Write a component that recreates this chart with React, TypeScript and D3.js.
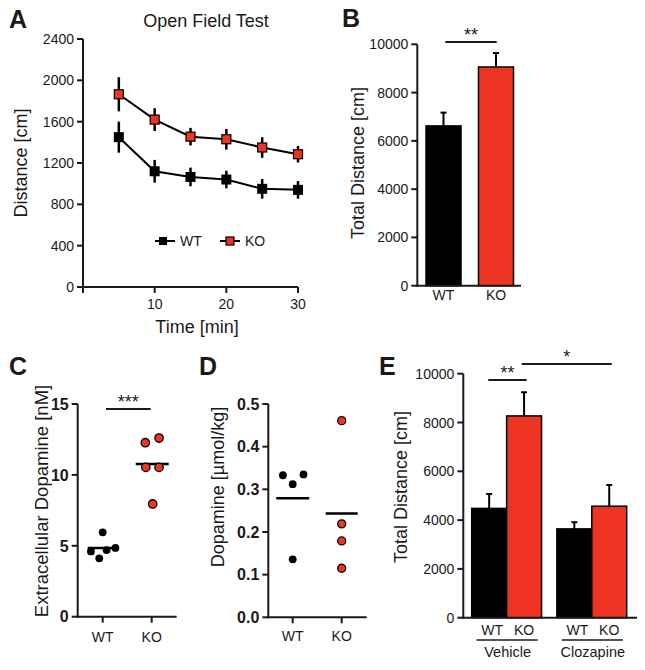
import React from 'react';
import * as d3 from 'd3';

const FONT = '"Liberation Sans", Arial, Helvetica, sans-serif';
const RED = '#ee3524';
const INK = '#1a1a1a';

// ---------- Panel A: Open Field Test ----------
const timePoints = [5, 10, 15, 20, 25, 30];
const wtDistance = [1450, 1120, 1065, 1040, 950, 940];
const wtDistanceErr = [150, 110, 90, 85, 95, 85];
const koDistance = [1865, 1620, 1455, 1430, 1350, 1285];
const koDistanceErr = [165, 110, 85, 100, 100, 80];
const aYTicks = [0, 400, 800, 1200, 1600, 2000, 2400];
const aXTicks = [0, 10, 20, 30];

// ---------- Panel B: Total distance ----------
const bGroups = ['WT', 'KO'];
const bTotal = [6620, 9060];
const bErr = [550, 580];
const bYTicks = [0, 2000, 4000, 6000, 8000, 10000];

// ---------- Panel C: Extracellular dopamine ----------
const cGroups = ['WT', 'KO'];
const cWT = [5.95, 4.6, 4.12, 4.7, 4.85];
const cWTJitter = [0.0, -0.24, -0.07, 0.08, 0.26];
const cKO = [12.27, 12.6, 10.53, 10.53, 7.95];
const cKOJitter = [-0.13, 0.15, -0.12, 0.15, 0.02];
const cYTicks = [0, 5, 10, 15];

// ---------- Panel D: Dopamine tissue ----------
const dGroups = ['WT', 'KO'];
const dWT = [0.333, 0.335, 0.312, 0.136];
const dWTJitter = [-0.2, 0.22, 0, 0];
const dKO = [0.461, 0.219, 0.179, 0.115];
const dKOJitter = [0, 0, 0, 0];
const dYTicks = [0, 0.1, 0.2, 0.3, 0.4, 0.5];

// ---------- Panel E: Vehicle / Clozapine ----------
const eTreatments = ['Vehicle', 'Clozapine'];
const eGenotypes = ['WT', 'KO'];
const eValues = [
  [4480, 8270],
  [3640, 4570],
];
const eErr = [
  [590, 970],
  [275, 870],
];
const eYTicks = [0, 2000, 4000, 6000, 8000, 10000];

const mean = (a: number[]) => a.reduce((s, v) => s + v, 0) / a.length;

function YAxis({ x, scale, ticks, fmt, bold, size = 14 }: any) {
  const [r0, r1] = scale.range();
  return (
    <g>
      <line x1={x} x2={x} y1={r0 + 1} y2={r1} stroke={INK} strokeWidth={2} />
      {ticks.map((t: number) => (
        <g key={t}>
          <line x1={x - 6} x2={x} y1={scale(t)} y2={scale(t)} stroke={INK} strokeWidth={2} />
          <text
            x={x - 9}
            y={scale(t)}
            dy="0.36em"
            textAnchor="end"
            fontSize={size}
            fontWeight={bold ? 'bold' : 'normal'}
            fill={INK}
          >
            {fmt ? fmt(t) : t}
          </text>
        </g>
      ))}
    </g>
  );
}

function Sig({ x1, x2, y, label }: any) {
  return (
    <g>
      <line x1={x1} x2={x2} y1={y} y2={y} stroke={INK} strokeWidth={2} />
      <text x={(x1 + x2) / 2} y={y - 1} textAnchor="middle" fontSize={18} fill={INK}>
        {label}
      </text>
    </g>
  );
}

export default function App() {
  // ----- A scales
  const ax = d3.scaleLinear().domain([0, 30]).range([83, 298]);
  const ay = d3.scaleLinear().domain([0, 2400]).range([287, 39]);
  const lineGen = d3
    .line<number>()
    .x((_, i) => ax(timePoints[i]))
    .y((d) => ay(d));

  // ----- B scales
  const bx = d3.scaleBand().domain(bGroups).range([426, 513.5]).paddingInner(0.333).paddingOuter(0);
  const by = d3.scaleLinear().domain([0, 10000]).range([285.7, 44.3]);

  // ----- C scales
  const cx = d3.scalePoint().domain(cGroups).range([102.7, 151.7]);
  const cy = d3.scaleLinear().domain([0, 15]).range([616.7, 404]);
  const cStep = cx.step();

  // ----- D scales
  const dx = d3.scalePoint().domain(dGroups).range([292.7, 341.7]);
  const dy = d3.scaleLinear().domain([0, 0.5]).range([617.3, 404]);
  const dStep = dx.step();

  // ----- E scales
  const ex = d3.scaleBand().domain(eTreatments).range([471.7, 626.7]).paddingInner(0.18).paddingOuter(0);
  const exInner = d3.scaleBand().domain(eGenotypes).range([0, ex.bandwidth()]).padding(0);
  const ey = d3.scaleLinear().domain([0, 10000]).range([617.7, 373.7]);

  const colorOf = (g: string) => (g === 'KO' ? RED : '#000');

  return (
    <svg
      width={645}
      height={670}
      style={{ position: 'absolute', left: 0, top: 0, background: '#fff' }}
      fontFamily={FONT}
    >
      <rect x={0} y={0} width={645} height={670} fill="#fff" />

      {/* ================= Panel A ================= */}
      <text x={9} y={28} fontSize={25} fontWeight="bold" fill={INK}>A</text>
      <text x={206} y={27} fontSize={18} textAnchor="middle" fill={INK}>Open Field Test</text>
      <YAxis x={83} scale={ay} ticks={aYTicks} />
      <line x1={82} x2={ax(30)} y1={287} y2={287} stroke={INK} strokeWidth={2} />
      {aXTicks.map((t) => (
        <g key={t}>
          <line x1={ax(t)} x2={ax(t)} y1={287} y2={293} stroke={INK} strokeWidth={2} />
          {t > 0 && (
            <text x={ax(t)} y={309} textAnchor="middle" fontSize={14} fill={INK}>{t}</text>
          )}
        </g>
      ))}
      <text x={197} y={333} textAnchor="middle" fontSize={18} fill={INK}>Time [min]</text>
      <text transform="translate(27,163) rotate(-90)" textAnchor="middle" fontSize={18} fill={INK}>
        Distance [cm]
      </text>
      {/* WT series */}
      <path d={lineGen(wtDistance) || ''} fill="none" stroke="#000" strokeWidth={2} />
      {wtDistance.map((v, i) => (
        <line key={'wte' + i} x1={ax(timePoints[i])} x2={ax(timePoints[i])} y1={ay(v - wtDistanceErr[i])} y2={ay(v + wtDistanceErr[i])} stroke="#000" strokeWidth={2.5} />
      ))}
      {wtDistance.map((v, i) => (
        <rect key={'wtm' + i} x={ax(timePoints[i]) - 5} y={ay(v) - 5} width={10} height={10} fill="#000" />
      ))}
      {/* KO series */}
      <path d={lineGen(koDistance) || ''} fill="none" stroke="#000" strokeWidth={2} />
      {koDistance.map((v, i) => (
        <line key={'koe' + i} x1={ax(timePoints[i])} x2={ax(timePoints[i])} y1={ay(v - koDistanceErr[i])} y2={ay(v + koDistanceErr[i])} stroke="#000" strokeWidth={2.5} />
      ))}
      {koDistance.map((v, i) => (
        <rect key={'kom' + i} x={ax(timePoints[i]) - 4.5} y={ay(v) - 4.5} width={9} height={9} fill={RED} stroke="#000" strokeWidth={1.2} />
      ))}
      {/* legend */}
      <line x1={155} x2={175} y1={241} y2={241} stroke="#000" strokeWidth={2} />
      <rect x={159} y={237} width={8} height={8} fill="#000" />
      <text x={180} y={246} fontSize={14} fill={INK}>WT</text>
      <line x1={220} x2={240} y1={241} y2={241} stroke="#000" strokeWidth={2} />
      <rect x={226} y={237} width={8} height={8} fill={RED} stroke="#000" strokeWidth={1.2} />
      <text x={245} y={246} fontSize={14} fill={INK}>KO</text>

      {/* ================= Panel B ================= */}
      <text x={342} y={27} fontSize={25} fontWeight="bold" fill={INK}>B</text>
      {bGroups.map((g, i) => (
        <g key={g}>
          <line x1={bx(g)! + bx.bandwidth() / 2} x2={bx(g)! + bx.bandwidth() / 2} y1={by(bTotal[i])} y2={by(bTotal[i] + bErr[i])} stroke="#000" strokeWidth={2} />
          <line x1={bx(g)! + bx.bandwidth() / 2 - 3} x2={bx(g)! + bx.bandwidth() / 2 + 3} y1={by(bTotal[i] + bErr[i])} y2={by(bTotal[i] + bErr[i])} stroke="#000" strokeWidth={2} />
          <rect x={bx(g)} y={by(bTotal[i])} width={bx.bandwidth()} height={by(0) - by(bTotal[i])} fill={colorOf(g)} stroke="#000" strokeWidth={1.5} />
          <text x={bx(g)! + bx.bandwidth() / 2} y={300} textAnchor="middle" fontSize={14} fill={INK}>{g}</text>
        </g>
      ))}
      <YAxis x={417.3} scale={by} ticks={bYTicks} />
      <line x1={416.3} x2={521} y1={285.7} y2={285.7} stroke={INK} strokeWidth={2} />
      <text transform="translate(364,163) rotate(-90)" textAnchor="middle" fontSize={18} fill={INK}>
        Total Distance [cm]
      </text>
      <Sig x1={445.3} x2={496.7} y={42} label="**" />

      {/* ================= Panel C ================= */}
      <text x={9} y={375} fontSize={25} fontWeight="bold" fill={INK}>C</text>
      <YAxis x={77.7} scale={cy} ticks={cYTicks} bold size={16} />
      <line x1={76.7} x2={176.7} y1={616.7} y2={616.7} stroke={INK} strokeWidth={2} />
      {cGroups.map((g) => (
        <g key={g}>
          <line x1={cx(g)} x2={cx(g)} y1={616.7} y2={622.7} stroke={INK} strokeWidth={2} />
          <text x={cx(g)} y={642} textAnchor="middle" fontSize={14} fill={INK}>{g}</text>
        </g>
      ))}
      <text transform="translate(48,501) rotate(-90)" textAnchor="middle" fontSize={18.5} fill={INK}>
        Extracellular Dopamine  [nM]
      </text>
      <line x1={cx('WT')! - 15} x2={cx('WT')! + 12} y1={cy(mean(cWT))} y2={cy(mean(cWT))} stroke="#000" strokeWidth={2.5} />
      <line x1={cx('KO')! - 16} x2={cx('KO')! + 17} y1={cy(mean(cKO))} y2={cy(mean(cKO))} stroke="#000" strokeWidth={2.5} />
      {cWT.map((v, i) => (
        <circle key={'cw' + i} cx={cx('WT')! + cWTJitter[i] * cStep} cy={cy(v)} r={3.9} fill="#000" />
      ))}
      {cKO.map((v, i) => (
        <circle key={'ck' + i} cx={cx('KO')! + cKOJitter[i] * cStep} cy={cy(v)} r={4.2} fill={RED} stroke="#000" strokeWidth={1.3} />
      ))}
      <Sig x1={106} x2={150.7} y={409} label="***" />

      {/* ================= Panel D ================= */}
      <text x={199} y={375} fontSize={25} fontWeight="bold" fill={INK}>D</text>
      <YAxis x={268.3} scale={dy} ticks={dYTicks} bold size={16} fmt={(t: number) => t.toFixed(1)} />
      <line x1={267.3} x2={366.7} y1={617.3} y2={617.3} stroke={INK} strokeWidth={2} />
      {dGroups.map((g) => (
        <g key={g}>
          <line x1={dx(g)} x2={dx(g)} y1={617.3} y2={623.3} stroke={INK} strokeWidth={2} />
          <text x={dx(g)} y={641} textAnchor="middle" fontSize={14} fill={INK}>{g}</text>
        </g>
      ))}
      <text transform="translate(224,487) rotate(-90)" textAnchor="middle" fontSize={18} fill={INK}>
        Dopamine [µmol/kg]
      </text>
      <line x1={dx('WT')! - 16.5} x2={dx('WT')! + 16.5} y1={dy(mean(dWT))} y2={dy(mean(dWT))} stroke="#000" strokeWidth={2.5} />
      <line x1={dx('KO')! - 16} x2={dx('KO')! + 16} y1={dy(mean(dKO))} y2={dy(mean(dKO))} stroke="#000" strokeWidth={2.5} />
      {dWT.map((v, i) => (
        <circle key={'dw' + i} cx={dx('WT')! + dWTJitter[i] * dStep} cy={dy(v)} r={3.9} fill="#000" />
      ))}
      {dKO.map((v, i) => (
        <circle key={'dk' + i} cx={dx('KO')! + dKOJitter[i] * dStep} cy={dy(v)} r={4} fill={RED} stroke="#000" strokeWidth={1.3} />
      ))}

      {/* ================= Panel E ================= */}
      <text x={379} y={375} fontSize={25} fontWeight="bold" fill={INK}>E</text>
      {eTreatments.map((tr, ti) => (
        <g key={tr}>
          {eGenotypes.map((g, gi) => {
            const x0 = ex(tr)! + exInner(g)!;
            const w = exInner.bandwidth();
            const v = eValues[ti][gi];
            const e = eErr[ti][gi];
            return (
              <g key={g}>
                <line x1={x0 + w / 2} x2={x0 + w / 2} y1={ey(v)} y2={ey(v + e)} stroke="#000" strokeWidth={2} />
                <line x1={x0 + w / 2 - 3} x2={x0 + w / 2 + 3} y1={ey(v + e)} y2={ey(v + e)} stroke="#000" strokeWidth={2} />
                <rect x={x0} y={ey(v)} width={w} height={ey(0) - ey(v)} fill={colorOf(g)} stroke="#000" strokeWidth={1.5} />
                <text x={x0 + w / 2 + (g === 'WT' ? 3 : 0)} y={635} textAnchor="middle" fontSize={14} fill={INK}>{g}</text>
              </g>
            );
          })}
          <line
            x1={ex(tr)! + ex.bandwidth() / 2 - 30}
            x2={ex(tr)! + ex.bandwidth() / 2 + 31}
            y1={640}
            y2={640}
            stroke={INK}
            strokeWidth={1.5}
          />
          <text x={ex(tr)! + ex.bandwidth() / 2 + 1} y={657} textAnchor="middle" fontSize={14.5} fill={INK}>{tr}</text>
        </g>
      ))}
      <YAxis x={463.3} scale={ey} ticks={eYTicks} />
      <line x1={462.3} x2={637} y1={617.7} y2={617.7} stroke={INK} strokeWidth={2} />
      <text transform="translate(407,487) rotate(-90)" textAnchor="middle" fontSize={18} fill={INK}>
        Total Distance [cm]
      </text>
      <Sig x1={488.3} x2={526.7} y={380} label="**" />
      <Sig x1={521.7} x2={611.7} y={364} label="*" />
    </svg>
  );
}
